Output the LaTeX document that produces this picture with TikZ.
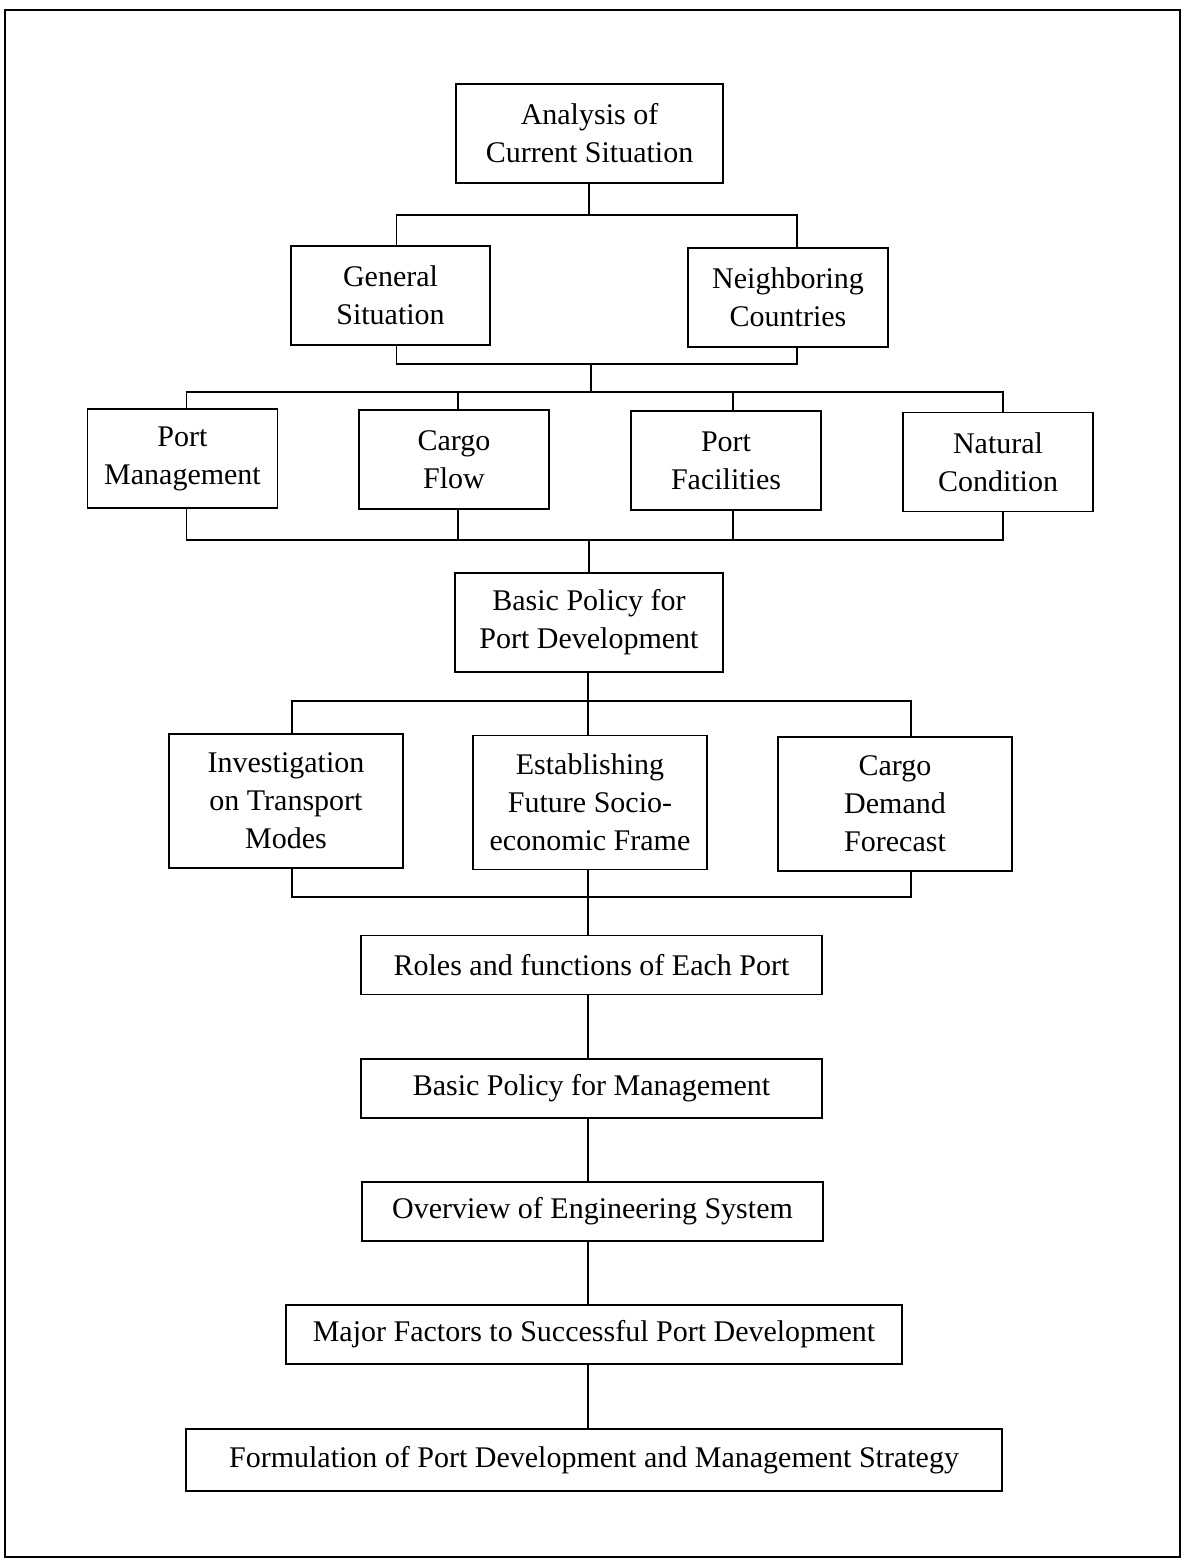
\documentclass[tikz,border=0pt]{standalone}
\usepackage{fontspec}
\setmainfont{Liberation Serif}

\begin{document}
\begin{tikzpicture}[x=0.5pt, y=-0.5pt, thick,
    box/.style={draw, align=center, inner sep=0pt, font=\fontsize{15}{19}\selectfont},
    sbox/.style={box, minimum width=95pt, minimum height=49.5pt},
    tbox/.style={box, minimum width=117pt, minimum height=67pt},
    lbox/.style={box, minimum height=29.5pt}]
  \useasboundingbox (0,0) rectangle (1184,1561);
  \draw[semithick] (5,10) rectangle (1180,1557);

  % top levels
  \node (ana) at (589.5,133.5) [box, minimum width=133.5pt, minimum height=49.5pt] {Analysis of\\Current Situation};
  \node (gen) at (390.5,295.5) [box, minimum width=99.5pt, minimum height=49.5pt] {General\\Situation};
  \node (nei) at (788,297.5) [box, minimum width=100pt, minimum height=49.5pt] {Neighboring\\Countries};

  % current situation items
  \node (pm) at (182.5,458.5) [sbox] {Port\\Management};
  \node (cf) at (454,459.5) [sbox] {Cargo\\Flow};
  \node (pf) at (726,460.5) [sbox] {Port\\Facilities};
  \node (nc) at (998,462) [sbox] {Natural\\Condition};

  \node (bpd) at (589,622.5) [box, minimum width=134pt, minimum height=49.5pt] {Basic Policy for\\Port Development};

  \node (inv) at (286,801) [tbox] {Investigation\\on Transport\\Modes};
  \node (est) at (590,802.5) [tbox] {Establishing\\Future Socio-\\economic Frame};
  \node (cdf) at (895,804) [tbox] {Cargo\\Demand\\Forecast};

  % chain
  \node (rol) at (591.5,965) [lbox, minimum width=230.5pt] {Roles and functions of Each Port};
  \node (bpm) at (591.5,1088.5) [lbox, minimum width=230.5pt] {Basic Policy for Management};
  \node (ove) at (592.5,1211.5) [lbox, minimum width=230.5pt] {Overview of Engineering System};
  \node (maj) at (594,1334.5) [lbox, minimum width=308pt] {Major Factors to Successful Port Development};
  \node (frm) at (594,1460) [lbox, minimum width=408pt, minimum height=31pt] {Formulation of Port Development and Management Strategy};

  % junctions
  \coordinate (j1) at (589,215);
  \coordinate (j2) at (591,364);
  \coordinate (j3) at (591,392);
  \coordinate (j4) at (589,540);
  \coordinate (j5) at (588,701);
  \coordinate (j6) at (588,897);

  \draw (ana.south -| j1) -- (j1);
  \draw ([xshift=3pt]gen.north) |- (j1) -| ([xshift=4.5pt]nei.north);
  \draw ([xshift=3pt]gen.south) |- (j2) -| ([xshift=4.5pt]nei.south);
  \draw (j2) -- (j3);
  \draw ([xshift=2pt]pm.north) |- (j3) -| ([xshift=2.5pt]nc.north);
  \draw ([xshift=2pt]cf.north) -- ([xshift=2pt]cf.north |- j3);
  \draw ([xshift=3.5pt]pf.north) -- ([xshift=3.5pt]pf.north |- j3);
  \draw ([xshift=2pt]pm.south) |- (j4) -| ([xshift=2.5pt]nc.south);
  \draw ([xshift=2pt]cf.south) -- ([xshift=2pt]cf.south |- j4);
  \draw ([xshift=3.5pt]pf.south) -- ([xshift=3.5pt]pf.south |- j4);
  \draw (j4) -- (j4 |- bpd.north);
  \draw (bpd.south -| j5) -- (j5);
  \draw ([xshift=3pt]inv.north) |- (j5) -| ([xshift=8pt]cdf.north);
  \draw (est.north -| j5) -- (j5);
  \draw ([xshift=3pt]inv.south) |- (j6) -| ([xshift=8pt]cdf.south);
  \draw (est.south -| j6) -- (j6);
  \draw (j6) -- (j6 |- rol.north);
  \draw (rol.south -| j6) -- (bpm.north -| j6);
  \draw (bpm.south -| j6) -- (ove.north -| j6);
  \draw (ove.south -| j6) -- (maj.north -| j6);
  \draw (maj.south -| j6) -- (frm.north -| j6);
\end{tikzpicture}
\end{document}
